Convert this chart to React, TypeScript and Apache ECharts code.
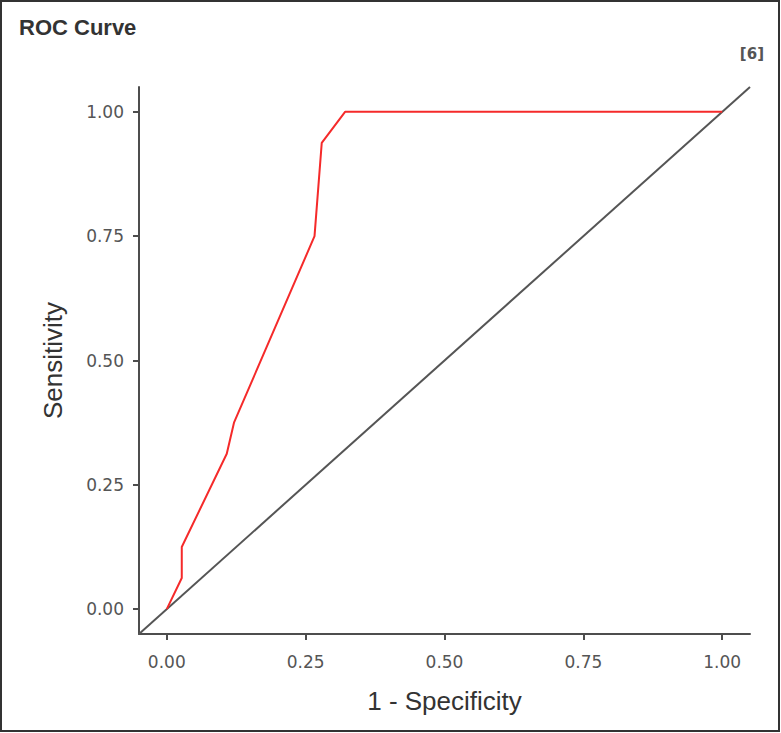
import React, { useEffect, useRef } from "react";
import * as echarts from "echarts";

const rocFpr = [0, 0.027, 0.027, 0.108, 0.121, 0.266, 0.279, 0.321, 1];
const rocTpr = [0, 0.0625, 0.125, 0.3125, 0.375, 0.75, 0.9375, 1, 1];
const diagonal = [-0.05, 1.05];
const tickValues = [0, 0.25, 0.5, 0.75, 1];

const axisColor = "#4d4d4d";
const labelColor = "#555";

export default function App() {
  const ref = useRef<HTMLDivElement>(null);
  useEffect(() => {
    if (!ref.current) return;
    const chart = echarts.init(ref.current, undefined, { renderer: "svg" });
    const axisCommon = {
      type: "value" as const,
      min: -0.05,
      max: 1.05,
      nameLocation: "middle" as const,
      nameTextStyle: { fontSize: 26, color: "#333", fontFamily: "Liberation Sans, Arial, sans-serif" },
      axisLine: { show: true, onZero: false, lineStyle: { color: axisColor, width: 2 } },
      axisTick: { show: true, length: 6, customValues: tickValues, lineStyle: { color: axisColor, width: 2 } },
      axisLabel: {
        customValues: tickValues,
        fontSize: 17,
        color: labelColor,
        fontFamily: "DejaVu Sans, sans-serif",
        formatter: (v: number) => v.toFixed(2),
      },
      splitLine: { show: false },
    };
    chart.setOption({
      animation: false,
      backgroundColor: "#fff",
      title: {
        text: "ROC Curve",
        left: 14,
        top: 11,
        textStyle: { fontSize: 22, fontWeight: "bold", color: "#333", fontFamily: "Liberation Sans, Arial, sans-serif" },
      },
      graphic: [
        {
          type: "rect",
          shape: { x: 1, y: 1, width: 778, height: 730 },
          style: { fill: "none", stroke: "#333", lineWidth: 2 },
          silent: true,
        },
        {
          type: "text",
          right: 17,
          top: 46,
          style: { text: "[6]", fontSize: 15, fontWeight: "bold", fill: "#555", fontFamily: "DejaVu Sans, sans-serif" },
        },
      ],
      grid: { left: 139, right: 31, top: 87, bottom: 99 },
      xAxis: {
        ...axisCommon,
        name: "1 - Specificity",
        nameGap: 54,
        axisLabel: { ...axisCommon.axisLabel, margin: 19 },
      },
      yAxis: {
        ...axisCommon,
        name: "Sensitivity",
        nameGap: 73,
        axisLabel: { ...axisCommon.axisLabel, margin: 15 },
      },
      series: [
        {
          type: "line",
          data: diagonal.map((v) => [v, v]),
          symbol: "none",
          lineStyle: { color: "#555", width: 2 },
          silent: true,
          z: 2,
        },
        {
          type: "line",
          data: rocFpr.map((x, i) => [x, rocTpr[i]]),
          symbol: "none",
          lineStyle: { color: "#f52a2a", width: 2 },
          silent: true,
          z: 3,
        },
      ],
    });
    return () => chart.dispose();
  }, []);
  return <div ref={ref} style={{ position: "absolute", left: 0, top: 0, width: 781, height: 733 }} />;
}
